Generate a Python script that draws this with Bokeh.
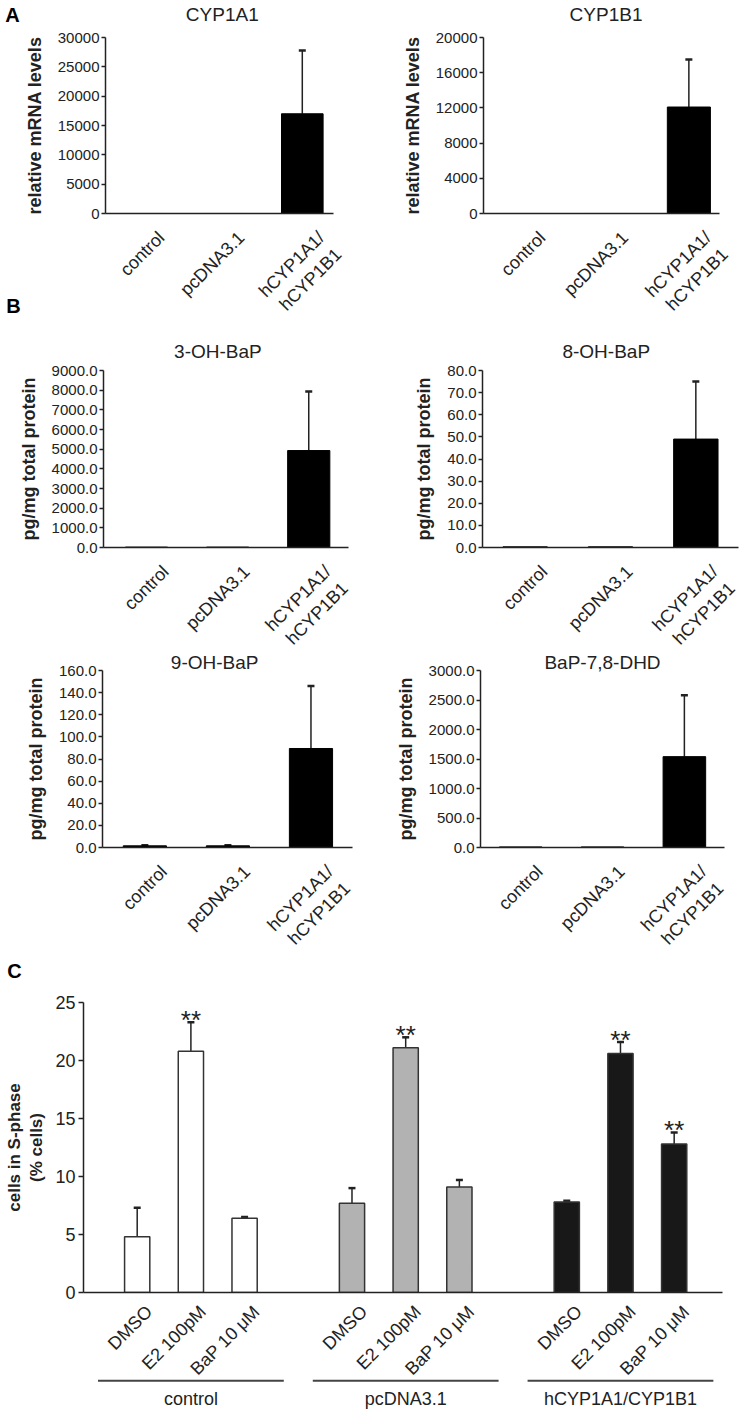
import math
from bokeh.plotting import figure
from bokeh.models import (Range1d, FixedTicker, PrintfTickFormatter, ColumnDataSource,
                          Whisker, TeeHead)
from bokeh.layouts import column, row
from bokeh.embed import file_html
from bokeh.resources import INLINE
from bokeh.core.properties import value

FONT = "Liberation Sans"
INK = "#222222"

# ---------------- data ----------------
ab_categories = ["control", "pcDNA3.1", "hCYP1A1/\nhCYP1B1"]

cyp1a1_mean = [1, 1, 17000]
cyp1a1_err = [0, 0, 10800]
cyp1b1_mean = [1, 1, 12100]
cyp1b1_err = [0, 0, 5400]

oh3_mean = [20, 20, 4930]
oh3_err = [0, 0, 3000]
oh8_mean = [0.3, 0.3, 49]
oh8_err = [0, 0, 26]
oh9_mean = [1.5, 1.5, 89.5]
oh9_err = [0.5, 0.5, 56.5]
dhd_mean = [10, 10, 1540]
dhd_err = [0, 0, 1040]

c_groups = ["control", "pcDNA3.1", "hCYP1A1/CYP1B1"]
c_treatments = ["DMSO", "E2 100pM", "BaP 10 \u03bcM"]
c_control_mean = [4.8, 20.8, 6.4]
c_control_err = [2.5, 2.5, 0.1]
c_pcdna_mean = [7.7, 21.1, 9.1]
c_pcdna_err = [1.3, 0.9, 0.6]
c_hcyp_mean = [7.8, 20.6, 12.8]
c_hcyp_err = [0.1, 1.0, 1.0]
c_stars_control = ["", "**", ""]
c_stars_pcdna = ["", "**", ""]
c_stars_hcyp = ["", "**", "**"]
c_colors = ["white", "#b2b2b2", "#181818"]


def base_style(p):
    p.outline_line_color = None
    p.grid.visible = False
    p.background_fill_color = "white"
    p.border_fill_color = "white"
    for ax in (p.xaxis, p.yaxis):
        ax.axis_line_width = 1.5
        ax.axis_line_color = INK
        ax.major_label_text_font = FONT
        ax.major_label_text_color = INK
        ax.minor_tick_line_color = None
        ax.axis_label_text_font = FONT
        ax.axis_label_text_color = INK
    p.yaxis.major_tick_out = 4
    p.yaxis.major_tick_in = 0
    p.yaxis.major_tick_line_width = 1.5
    p.yaxis.major_tick_line_color = INK
    p.yaxis.major_label_standoff = 2
    p.yaxis.axis_label_text_font_style = "bold"
    p.xaxis.major_tick_line_color = None
    p.xaxis.ticker = FixedTicker(ticks=[])


def overlay_text(p, x, y, text, dx=0, dy=0, size="18px", align="center",
                 baseline="middle", angle=0, style="normal", color=INK):
    p.text(x=x, y=y, text=text, x_offset=dx, y_offset=dy, angle=angle,
           text_align=align, text_baseline=baseline,
           text_font=value(FONT), text_font_size=size,
           text_font_style=value(style), text_color=color, level="overlay")


def ab_panel(mean, err, ymax, ystep, fmt, title, title_x, title_dy, ylabel,
             width, height, borders, xr):
    bl, br, bt, bb = borders
    p = figure(width=width, height=height, output_backend="svg", toolbar_location=None,
               x_range=Range1d(*xr), y_range=Range1d(0, ymax),
               min_border_left=bl, min_border_right=br, min_border_top=bt,
               min_border_bottom=bb)
    base_style(p)
    xs = list(range(len(mean)))
    p.vbar(x=xs, top=mean, bottom=0, width=0.52, fill_color="black",
           line_color="black", line_width=1)
    ex = [x for x, e in zip(xs, err) if e > 0]
    lo = [m for m, e in zip(mean, err) if e > 0]
    hi = [m + e for m, e in zip(mean, err) if e > 0]
    src = ColumnDataSource(dict(x=ex, lower=lo, upper=hi))
    p.add_layout(Whisker(source=src, base="x", lower="lower", upper="upper",
                         line_color=INK, line_width=1.5, lower_head=None,
                         upper_head=TeeHead(size=7, line_width=2.5, line_color=INK)))
    nt = int(round(ymax / ystep))
    p.yaxis.ticker = FixedTicker(ticks=[i * ystep for i in range(nt + 1)])
    p.yaxis.formatter = PrintfTickFormatter(format=fmt)
    p.yaxis.major_label_text_font_size = "15px"
    p.yaxis.axis_label = ylabel
    p.yaxis.axis_label_text_font_size = "18px"
    p.yaxis.axis_label_standoff = 10
    # rotated category labels
    overlay_text(p, xs, [0] * len(xs), ab_categories, dx=12, dy=14, size="18px",
                 align="right", baseline="top", angle=math.pi / 4)
    # panel title
    overlay_text(p, [title_x], [ymax], [title], dy=-title_dy, size="19px")
    return p


def letter(p, x, y, dx, dy, txt):
    overlay_text(p, [x], [y], [txt], dx=dx, dy=dy, size="20px", style="bold",
                 color="black")


mrna = "relative mRNA levels"
prot = "pg/mg total protein"

pA1 = ab_panel(cyp1a1_mean, cyp1a1_err, 30000, 5000, "%d", "CYP1A1", 1.0, 23, mrna,
               371, 320, (105, 38, 37, 107), (-0.46, 2.39))
pA2 = ab_panel(cyp1b1_mean, cyp1b1_err, 20000, 4000, "%d", "CYP1B1", 1.0, 23, mrna,
               371, 320, (112, 23, 37, 107), (-0.48, 2.37))
letter(pA1, -0.46, 30000, -93, -23, "A")
letter(pA1, -0.46, 0, -92, 92, "B")

pB1 = ab_panel(oh3_mean, oh3_err, 9000, 1000, "%.1f", "3-OH-BaP", 0.88, 19, prot,
               371, 332, (103, 23, 50, 105), (-0.53, 2.49))
pB2 = ab_panel(oh8_mean, oh8_err, 80, 10, "%.1f", "8-OH-BaP", 0.95, 19, prot,
               371, 332, (111, 4, 50, 105), (-0.5, 2.5))
pB3 = ab_panel(oh9_mean, oh9_err, 160, 20, "%.1f", "9-OH-BaP", 0.84, 8, prot,
               371, 300, (102, 19, 18, 105), (-0.51, 2.5))
pB4 = ab_panel(dhd_mean, dhd_err, 3000, 500, "%.1f", "BaP-7,8-DHD", 1.0, 8, prot,
               371, 300, (109, 18, 18, 105), (-0.49, 2.49))

# ---------------- panel C ----------------
pc = figure(width=742, height=461, output_backend="svg", toolbar_location=None,
            x_range=Range1d(-1.0, 10.9), y_range=Range1d(0, 25),
            min_border_left=83, min_border_right=20, min_border_top=50,
            min_border_bottom=121)
base_style(pc)
series = [(c_control_mean, c_control_err, c_stars_control),
          (c_pcdna_mean, c_pcdna_err, c_stars_pcdna),
          (c_hcyp_mean, c_hcyp_err, c_stars_hcyp)]
for gi, (m, e, s) in enumerate(series):
    xs = [gi * 4 + ti for ti in range(len(m))]
    up = [a + b for a, b in zip(m, e)]
    pc.vbar(x=xs, top=m, bottom=0, width=0.47, fill_color=c_colors[gi],
            line_color="#333333", line_width=1.5)
    src = ColumnDataSource(dict(x=xs, lower=m, upper=up))
    pc.add_layout(Whisker(source=src, base="x", lower="lower", upper="upper",
                          line_color=INK, line_width=1.5, lower_head=None,
                          upper_head=TeeHead(size=7, line_width=2.5, line_color=INK)))
    overlay_text(pc, xs, up, s, dy=-2, size="26px", baseline="alphabetic")
    overlay_text(pc, xs, [0] * len(xs), c_treatments, dx=5, dy=9, size="18px",
                 align="right", baseline="top", angle=math.pi / 4)

pc.yaxis.ticker = FixedTicker(ticks=[0, 5, 10, 15, 20, 25])
pc.yaxis.major_label_text_font_size = "18px"
pc.yaxis.major_tick_out = 5
pc.yaxis.major_label_standoff = 3
pc.yaxis.axis_label = "cells in S-phase\n(% cells)"
pc.yaxis.axis_label_text_font_size = "17px"
pc.yaxis.axis_label_standoff = 6

mids = [gi * 4 + 1 for gi in range(len(c_groups))]
line_y = -7.6
label_y = -9.2
pc.segment(x0=[mm - 1.73 for mm in mids], x1=[mm + 1.73 for mm in mids],
           y0=[line_y] * 3, y1=[line_y] * 3, line_width=2, line_color="#444444",
           level="overlay")
overlay_text(pc, mids, [label_y] * 3, c_groups, size="18px")
letter(pc, -1.0, 25, -69, -32, "C")

layout = column(row(pA1, pA2), row(pB1, pB2), row(pB3, pB4), pc)

open("out.html", "w").write(file_html(layout, INLINE))
